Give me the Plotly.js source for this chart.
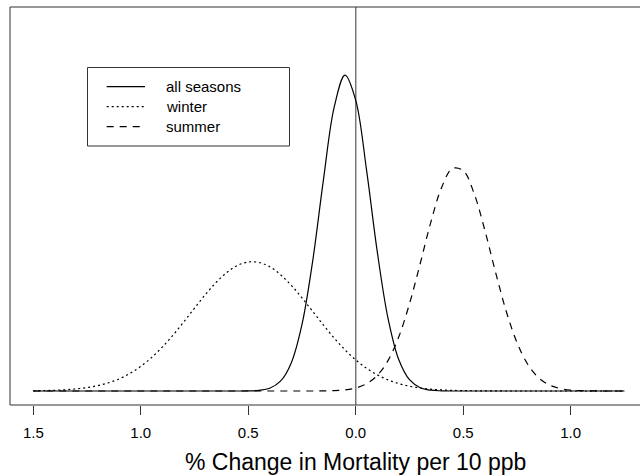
<!DOCTYPE html>
<html><head><meta charset="utf-8">
<script src="https://cdn.plot.ly/plotly-3.0.1.min.js"></script>
<style>html,body{margin:0;padding:0;background:#fff}</style>
</head><body><div id="chart" style="width:640px;height:476px"></div>
<script>
// ---- data (y in arbitrary density units) ----
const xs = [-1.50,-1.45,-1.40,-1.35,-1.30,-1.25,-1.20,-1.15,-1.10,-1.05,-1.00,-0.95,-0.90,-0.85,-0.80,-0.75,-0.70,-0.65,-0.60,-0.55,-0.50,-0.45,-0.40,-0.35,-0.30,-0.25,-0.20,-0.15,-0.10,-0.05,0.00,0.05,0.10,0.15,0.20,0.25,0.30,0.35,0.40,0.45,0.50,0.55,0.60,0.65,0.70,0.75,0.80,0.85,0.90,0.95,1.00,1.05,1.10,1.15,1.20,1.25];
const allSeasons = [0,0,0,0,0,0,0,0,0,0,0,0,0,0,0,0,0,0,0,0,
  0.1,0.7,2.8,9.8,28.1,66.6,130.4,211.6,284.1,315.9,290.7,221.4,139.6,72.9,31.5,11.3,3.3,0.8,0.2,
  0,0,0,0,0,0,0,0,0,0,0,0,0,0,0,0,0];
const winter = [0.2,0.4,0.7,1.2,2.1,3.4,5.4,8.2,12.2,17.6,24.6,33.4,43.9,55.9,69.1,82.8,96.3,108.5,118.5,125.6,
  129.0,128.5,124.2,116.3,105.7,93.1,79.5,65.9,52.9,41.2,31.1,22.8,16.2,11.1,7.4,4.8,3.0,1.8,1.1,0.6,
  0.4,0.2,0.1,0.1,0,0,0,0,0,0,0,0,0,0,0,0];
const summer = [0,0,0,0,0,0,0,0,0,0,0,0,0,0,0,0,0,0,0,0,0,0,0,0,0,0,
  0.0,0.1,0.4,1.1,3.0,7.2,15.5,30.4,54.0,87.2,127.5,169.3,203.8,222.6,220.4,197.9,161.2,119.1,79.8,48.5,
  26.7,13.4,6.1,2.5,0.9,0.3,0.1,0,0,0];
const seriesNames = ["all seasons", "winter", "summer"];
const tickVals = [-1.5, -1.0, -0.5, 0.0, 0.5, 1.0];
const tickText = ["1.5", "1.0", "0.5", "0.0", "0.5", "1.0"];
const xTitle = "% Change in Mortality per 10 ppb";

// ---- layout helpers ----
const W = 640, H = 476, ML = 10, MT = 7, MB = 71, MR = 0;
const pw = W - ML - MR, ph = H - MT - MB;
const px = x => (x - ML) / pw;
const py = y => (H - MB - y) / ph;
const FONT = "Liberation Sans, Arial, Helvetica, sans-serif";
const dashes = ["solid", "2px,3px", "7px,6px"];
const series = [allSeasons, winter, summer];

const traces = series.map((s, i) => ({
  x: xs, y: s, type: "scatter", mode: "lines", name: seriesNames[i],
  line: {color: "#000", width: 1.2, dash: dashes[i], shape: "spline", smoothing: 1},
  hoverinfo: "skip", showlegend: false
}));

// legend geometry (pixels)
const lgBox = {x0: 87.5, x1: 289.5, y0: 67.5, y1: 146};
const lgRows = [86.7, 106.7, 126.7];
const lgLine = [106.7, 145];
const lgText = 163.5;

const shapes = [
  {type: "rect", xref: "paper", yref: "paper", x0: 0, x1: 1.2, y0: 0, y1: 1,
   line: {color: "#333", width: 1}, layer: "above"},
  {type: "line", xref: "x", yref: "paper", x0: 0, x1: 0, y0: 0, y1: 1,
   line: {color: "#777", width: 1.5}, layer: "below"},
  {type: "rect", xref: "paper", yref: "paper", x0: px(lgBox.x0), x1: px(lgBox.x1),
   y0: py(lgBox.y1), y1: py(lgBox.y0), line: {color: "#333", width: 1}, fillcolor: "#fff"}
];
const annotations = [];
seriesNames.forEach((n, i) => {
  shapes.push({type: "line", xref: "paper", yref: "paper",
    x0: px(lgLine[0]), x1: px(lgLine[1]), y0: py(lgRows[i]), y1: py(lgRows[i]),
    line: {color: "#000", width: 1.2, dash: dashes[i]}});
  annotations.push({xref: "paper", yref: "paper", x: px(lgText), y: py(lgRows[i]),
    xanchor: "left", yanchor: "middle", showarrow: false, text: n,
    font: {family: FONT, size: 15, color: "#000"}});
});
// x-axis title, centred under x = 0 as in the original (plot region extends beyond the crop)
annotations.push({xref: "x", yref: "paper", x: 0, y: py(462), xanchor: "center", yanchor: "middle",
  showarrow: false, text: xTitle, font: {family: FONT, size: 23, color: "#000"}});

const layout = {
  width: W, height: H, margin: {l: ML, r: MR, t: MT, b: MB, pad: 0},
  paper_bgcolor: "#fff", plot_bgcolor: "#fff", showlegend: false,
  font: {family: FONT, color: "#000"},
  xaxis: {range: [-1.6084, 1.3224], tickmode: "array", tickvals: tickVals, ticktext: tickText,
    ticks: "outside", ticklen: 9, tickwidth: 1, tickcolor: "#333", ticklabelstandoff: 5,
    showgrid: false, zeroline: false, showline: false, automargin: false,
    tickfont: {family: FONT, size: 15, color: "#000"}},
  yaxis: {range: [-14, 384], visible: false, showgrid: false, zeroline: false},
  shapes: shapes, annotations: annotations
};
Plotly.newPlot("chart", traces, layout, {staticPlot: true, displayModeBar: false});
</script></body></html>
